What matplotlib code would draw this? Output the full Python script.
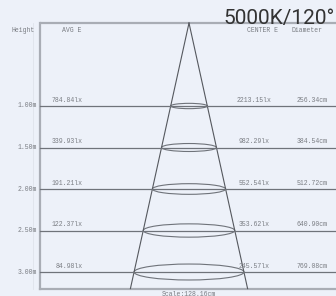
import matplotlib
matplotlib.use('Agg')
import matplotlib.pyplot as plt
from matplotlib.patches import Ellipse
from matplotlib.transforms import blended_transform_factory

# -------------------------------
# DATA
# -------------------------------
heights_m = [1.0, 1.5, 2.0, 2.5, 3.0]
height_labels = ['1.00m', '1.50m', '2.00m', '2.50m', '3.00m']
avg_e = ['784.84lx', '339.93lx', '191.21lx', '122.37lx', '84.98lx']
center_e = ['2213.15lx', '982.29lx', '552.54lx', '353.62lx', '245.57lx']
diameter_cm = [256.34, 384.54, 512.72, 640.90, 769.08]
title = '5000K/120°'
caption = 'Scale:128.16cm'

# -------------------------------
# STYLE
# -------------------------------
BG = '#edf1f9'
FRAME = '#a9adb5'
LEVEL = '#6f737a'
CONE = '#55585e'
TXT = '#7a7d83'
MONO = 'Liberation Mono'
FS = 4.7

fig = plt.figure(figsize=(3.36, 2.96), dpi=100)
fig.patch.set_facecolor(BG)
ax = fig.add_axes([0, 0, 1, 1])
ax.set_facecolor(BG)
ax.axis('off')

# x in cm (cone centre at 0), y in metres below the lamp
ax.set_xlim(-1323, 1029)
ax.set_ylim(3.289, -0.277)

x_left = -1043
y_bottom = 3.2
right = 1029
tr = blended_transform_factory(ax.transAxes, ax.transData)

# frame
ax.plot([x_left, right], [0, 0], color=FRAME, lw=1.6, solid_capstyle='butt')
ax.plot([x_left, x_left], [0, y_bottom], color=FRAME, lw=1.6)
ax.plot([x_left, right], [y_bottom, y_bottom], color=FRAME, lw=1.6)
ax.plot([x_left - 50, x_left - 50], [0, y_bottom], color='#dfe3eb', lw=0.6)

# cone
half_per_m = diameter_cm[0] / heights_m[0] / 2
ax.plot([0, -half_per_m * y_bottom], [0, y_bottom], color=CONE, lw=0.8)
ax.plot([0, half_per_m * y_bottom], [0, y_bottom], color=CONE, lw=0.8)

for h, lab, a, c, d in zip(heights_m, height_labels, avg_e, center_e, diameter_cm):
    ax.add_patch(Ellipse((0, h), d, d * 0.00025, fill=False,
                         edgecolor=LEVEL, lw=0.8))
    ax.plot([x_left, right], [h, h], color=LEVEL, lw=0.9)
    ax.text(37 / 336, h, lab, transform=tr, ha='right', va='center',
            family=MONO, fontsize=FS, color=TXT)
    ax.text(83 / 336, h - 0.03, a, transform=tr, ha='right', va='bottom',
            family=MONO, fontsize=FS, color=TXT)
    ax.text(254 / 336, h - 0.03, c, transform=tr, ha='center', va='bottom',
            family=MONO, fontsize=FS, color=TXT)
    ax.text(312 / 336, h - 0.03, f'{d:.2f}cm', transform=tr, ha='center',
            va='bottom', family=MONO, fontsize=FS, color=TXT)

# headers
hy = 0.096
ax.text(11 / 336, hy, 'Height', transform=tr, ha='left', va='center',
        family=MONO, fontsize=FS, color=TXT)
ax.text(62 / 336, hy, 'AVG E', transform=tr, ha='left', va='center',
        family=MONO, fontsize=FS, color=TXT)
ax.text(247 / 336, hy, 'CENTER E', transform=tr, ha='left', va='center',
        family=MONO, fontsize=FS, color=TXT)
ax.text(291 / 336, hy, 'Diameter', transform=tr, ha='left', va='center',
        family=MONO, fontsize=FS, color=TXT)

ax.text(0, 3.265, caption, ha='center', va='center',
        family=MONO, fontsize=FS, color=TXT)

fig.text(335 / 336, 1 - 24 / 296, title, ha='right', va='baseline',
         family='Roboto', fontsize=15, color='#333333')

fig.savefig('out.png', dpi=100, facecolor=BG)
